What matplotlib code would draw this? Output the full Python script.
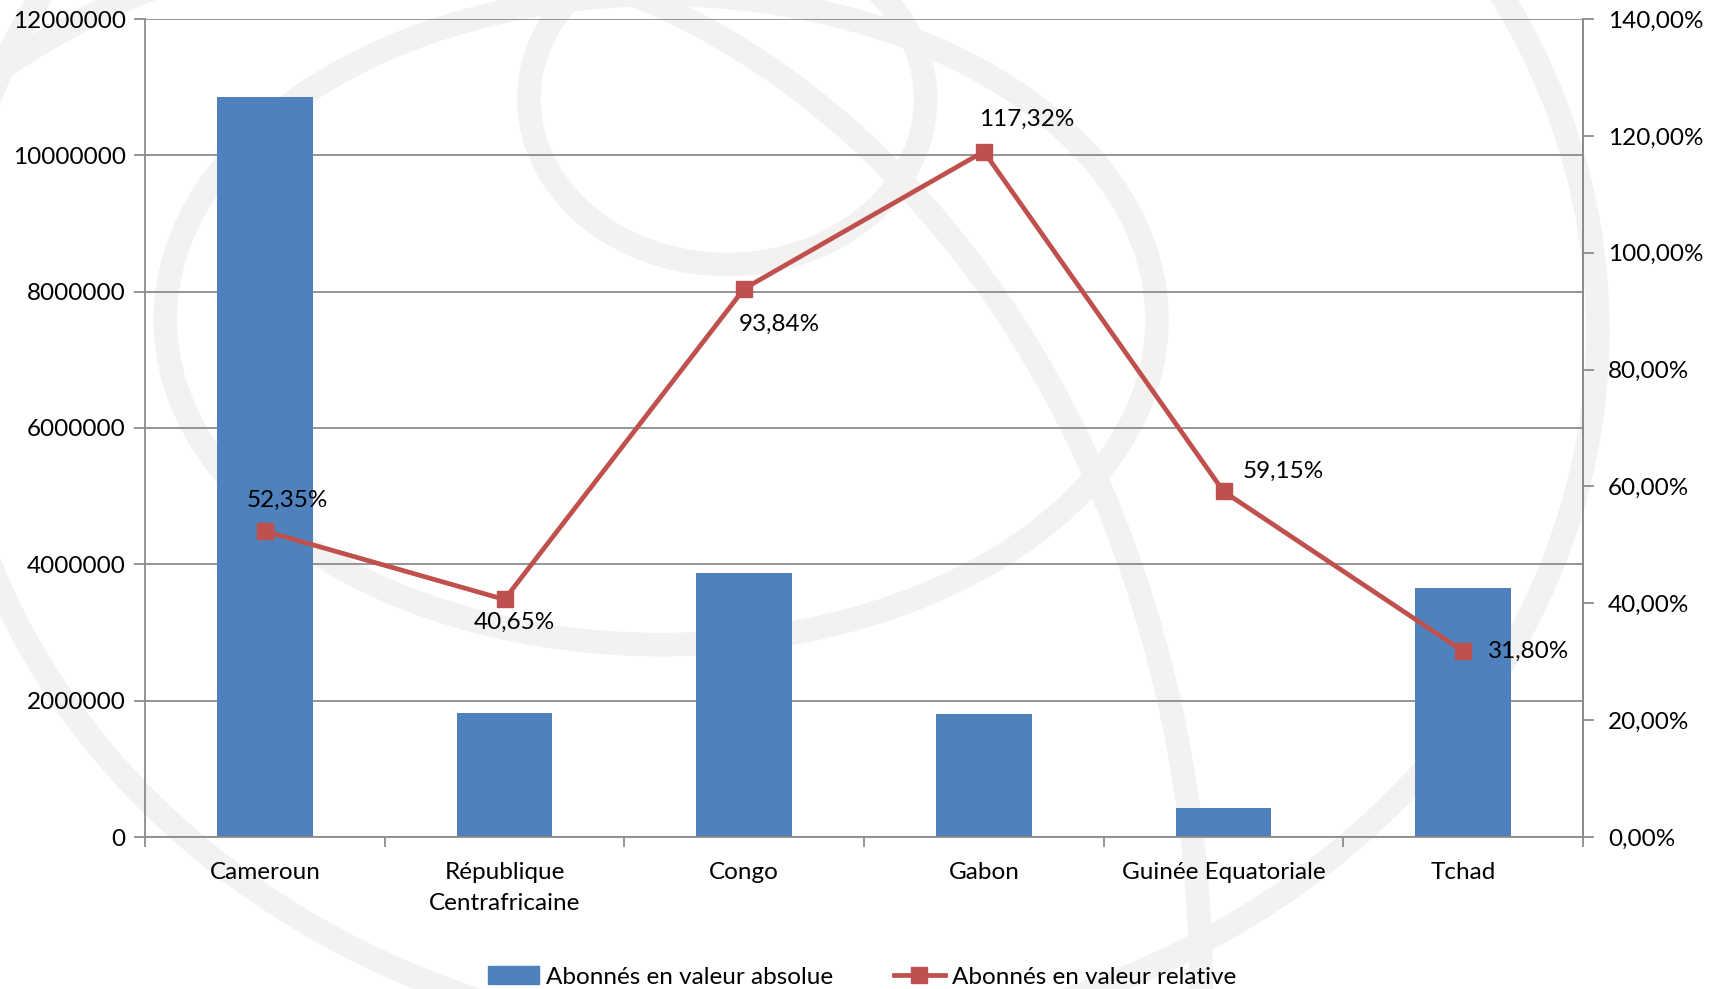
import matplotlib
matplotlib.use("Agg")
import matplotlib.pyplot as plt
from matplotlib.patches import Ellipse
from matplotlib.ticker import FuncFormatter, MultipleLocator, FixedLocator
from matplotlib.lines import Line2D
from matplotlib.patches import Patch

categories = ["Cameroun", "République\nCentrafricaine", "Congo", "Gabon", "Guinée Equatoriale", "Tchad"]
abs_values = [10850000, 1820000, 3880000, 1800000, 420000, 3650000]
rel_values = [52.35, 40.65, 93.84, 117.32, 59.15, 31.80]
rel_labels = ["52,35%", "40,65%", "93,84%", "117,32%", "59,15%", "31,80%"]
label_offsets = [(23, -31), (10, 23), (35, 36), (43, -32), (60, -20), (65, 0)]  # px

bar_color = "#4F81BD"
line_color = "#C0504D"
grid_color = "#8C8C8C"
FS = 17.5

plt.rcParams['font.family'] = ['Lato', 'DejaVu Sans']
fig = plt.figure(figsize=(17.19, 9.89), dpi=100)

# watermark background (light logo arcs)
bg = fig.add_axes([0, 0, 1, 1], zorder=-10)
bg.set_xlim(0, 1560); bg.set_ylim(897.5, 0); bg.axis('off')
wm = "#F3F2F0"
for (cx, cy, w, h, ang) in [(600, 290, 900, 590, 0), (660, 90, 360, 300, 0),
                            (350, 900, 1480, 1900, 0), (700, 300, 1500, 1300, 0)]:
    bg.add_patch(Ellipse((cx, cy), w, h, angle=ang, fill=False, ec=wm, lw=17))

ax = fig.add_axes([145/1719, 1-837/989, (1583-145)/1719, (837-19)/989])
ax.patch.set_alpha(0)
x = list(range(len(categories)))
ax.bar(x, abs_values, width=0.4, color=bar_color, zorder=2)
ax.set_xlim(-0.5, len(categories)-0.5)
ax.set_ylim(0, 12000000)
ax.yaxis.set_major_locator(MultipleLocator(2000000))
ax.yaxis.set_major_formatter(FuncFormatter(lambda v, p: f"{int(v)}"))
ax.grid(axis='y', color=grid_color, lw=1.3, zorder=0)
ax.set_xticks(x)
ax.set_xticklabels(categories, fontsize=FS, linespacing=1.6)
ax.tick_params(axis='x', length=0, pad=18)
ax.xaxis.set_minor_locator(FixedLocator([i + 0.5 for i in range(-1, len(categories))]))
ax.tick_params(axis='x', which='minor', length=7, color=grid_color, width=1.3, direction='out')
ax.tick_params(axis='y', labelsize=FS, length=8, color=grid_color, width=1.3, pad=6)
ax.spines['top'].set_visible(False)
for s in ['left', 'bottom', 'right']:
    ax.spines[s].set_color(grid_color)
    ax.spines[s].set_linewidth(1.3)

ax2 = ax.twinx()
ax2.plot(x, rel_values, color=line_color, lw=3.4, marker='s', markersize=12,
         markerfacecolor=line_color, markeredgecolor=line_color, zorder=5)
ax2.set_ylim(0, 140)
ax2.yaxis.set_major_locator(MultipleLocator(20))
ax2.yaxis.set_major_formatter(FuncFormatter(lambda v, p: f"{v:.2f}".replace('.', ',') + "%"))
ax2.tick_params(axis='y', labelsize=FS, length=8, color=grid_color, width=1.3, pad=10)
for s in ['top', 'left', 'bottom']:
    ax2.spines[s].set_visible(False)
ax2.spines['right'].set_color(grid_color)
ax2.spines['right'].set_linewidth(1.3)

for xi, v, lab, (dx, dy) in zip(x, rel_values, rel_labels, label_offsets):
    ax2.annotate(lab, (xi, v), xytext=(dx * 0.72, -dy * 0.72), textcoords='offset points',
                 ha='center', va='center', fontsize=FS)

handles = [Patch(color=bar_color), Line2D([0], [0], color=line_color, lw=3.4, marker='s', markersize=12)]
fig.legend(handles, ["Abonnés en valeur absolue", "Abonnés en valeur relative"],
           loc='center', bbox_to_anchor=(862/1719, 1-977/989), ncol=2, frameon=False,
           fontsize=FS, handlelength=2.1, handletextpad=0.3, columnspacing=2.5)

fig.savefig("out.png", dpi=100)
